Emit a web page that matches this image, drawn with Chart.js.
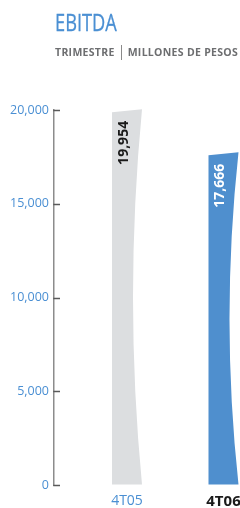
<!DOCTYPE html>
<html>
<head>
<meta charset="utf-8">
<script src="https://cdn.jsdelivr.net/npm/chart.js@4.4.1/dist/chart.umd.min.js"></script>
<style>
  html, body { margin: 0; padding: 0; background: #fff; overflow: hidden; }
  #wrap { position: relative; width: 240px; height: 508px; }
  #chart { position: absolute; left: 0; top: 0; }
  .title {
    position: absolute; left: 55px; top: 10px;
    font: 24px/24px "Open Sans", sans-serif; color: #4a8fd3;
    transform: scaleX(0.76); transform-origin: left top; white-space: nowrap;
    -webkit-text-stroke: 0.3px #4a8fd3;
  }
  .sub {
    position: absolute; left: 55px; top: 45px;
    font: bold 10.5px/12px "Open Sans", sans-serif; color: #6d6e70;
    letter-spacing: 0.3px; white-space: nowrap;
  }
  .sep {
    display: inline-block; width: 0; height: 15px; border-left: 1.5px solid #8a8a8a;
    vertical-align: -4px; margin: 0 6px 0 6px;
  }
</style>
</head>
<body>
<div id="wrap">
  <canvas id="chart" width="240" height="508"></canvas>
  <div class="title">EBITDA</div>
  <div class="sub">TRIMESTRE<span class="sep"></span>MILLONES DE PESOS</div>
</div>
<script>
const categories = ['4T05', '4T06'];
const ebitda = [19954, 17666];
const yTicks = [0, 5000, 10000, 15000, 20000];

const barColors = ['#dcdee0', '#4f8fce'];
const valueColors = ['#1a1a1a', '#ffffff'];
const tickBlue = '#4a8fd3';

// bars with the concave right edge, drawn from the bar elements' own geometry
const curvedBars = {
    id: 'curvedBars',
    afterDatasetsDraw(chart) {
        const ctx = chart.ctx;
        chart.getDatasetMeta(0).data.forEach((bar, i) => {
            const left = bar.x - bar.width / 2;
            const right = bar.x + bar.width / 2;
            const top = bar.y;
            const base = bar.base;
            const inset = bar.width * 0.3;
            ctx.save();
            ctx.beginPath();
            ctx.moveTo(left, top + 1.5);
            ctx.lineTo(right, top - 1.5);
            ctx.quadraticCurveTo(right - 2 * inset, (top + base) / 2, right, base);
            ctx.lineTo(left, base);
            ctx.closePath();
            ctx.fillStyle = barColors[i];
            ctx.fill();

            ctx.translate(bar.x - 3, top + 10);
            ctx.rotate(-Math.PI / 2);
            ctx.font = 'bold 14px "Open Sans", sans-serif';
            ctx.fillStyle = valueColors[i];
            ctx.textAlign = 'right';
            ctx.textBaseline = 'middle';
            ctx.fillText(ebitda[i].toLocaleString('en-US'), 0, 0);
            ctx.restore();
        });
    }
};

// small tick marks on the inner side of the y axis
const yTickMarks = {
    id: 'yTickMarks',
    afterDraw(chart) {
        const ctx = chart.ctx;
        const y = chart.scales.y;
        const x0 = chart.chartArea.left;
        ctx.save();
        ctx.strokeStyle = '#5a5a5a';
        ctx.lineWidth = 1.5;
        y.ticks.forEach(t => {
            const py = Math.round(y.getPixelForValue(t.value)) + 0.5;
            ctx.beginPath();
            ctx.moveTo(x0 - 0.75, py);
            ctx.lineTo(x0 + 6, py);
            ctx.stroke();
        });
        ctx.restore();
    }
};

new Chart(document.getElementById('chart'), {
    type: 'bar',
    data: {
        datasets: [{
            data: categories.map((c, i) => ({ x: i + 1, y: ebitda[i] })),
            backgroundColor: 'rgba(0,0,0,0)',
            barThickness: 30
        }]
    },
    options: {
        responsive: false,
        animation: false,
        events: [],
        layout: { padding: { top: 110, right: 0, left: 0, bottom: 0 } },
        plugins: { legend: { display: false }, tooltip: { enabled: false } },
        scales: {
            x: {
                type: 'linear',
                offset: false,
                min: 0.2435,
                max: 2.171,
                grid: { display: false, offset: false },
                border: { display: false },
                afterBuildTicks: scale => { scale.ticks = categories.map((c, i) => ({ value: i + 1 })); },
                afterFit: scale => { scale.height = 23; scale.paddingLeft = 0; scale.paddingRight = 0; },
                ticks: {
                    autoSkip: false,
                    maxRotation: 0,
                    padding: 0,
                    callback: v => categories[v - 1],
                    color: c => c.index === 0 ? tickBlue : '#1a1a1a',
                    font: c => c.index === 0
                        ? { family: '"Open Sans", sans-serif', size: 14 }
                        : { family: '"Open Sans", sans-serif', size: 15, weight: 'bold' }
                }
            },
            y: {
                min: 0,
                max: 20000,
                afterBuildTicks: scale => { scale.ticks = yTicks.map(v => ({ value: v })); },
                afterFit: scale => { scale.width = 54; scale.paddingTop = 0; scale.paddingBottom = 0; },
                grid: { drawOnChartArea: false, drawTicks: false },
                border: { display: true, color: '#8c8c8c', width: 1.5 },
                ticks: {
                    padding: 5,
                    color: tickBlue,
                    font: { family: '"Open Sans", sans-serif', size: 12.5 },
                    callback: v => v.toLocaleString('en-US')
                }
            }
        }
    },
    plugins: [curvedBars, yTickMarks]
});
</script>
</body>
</html>
